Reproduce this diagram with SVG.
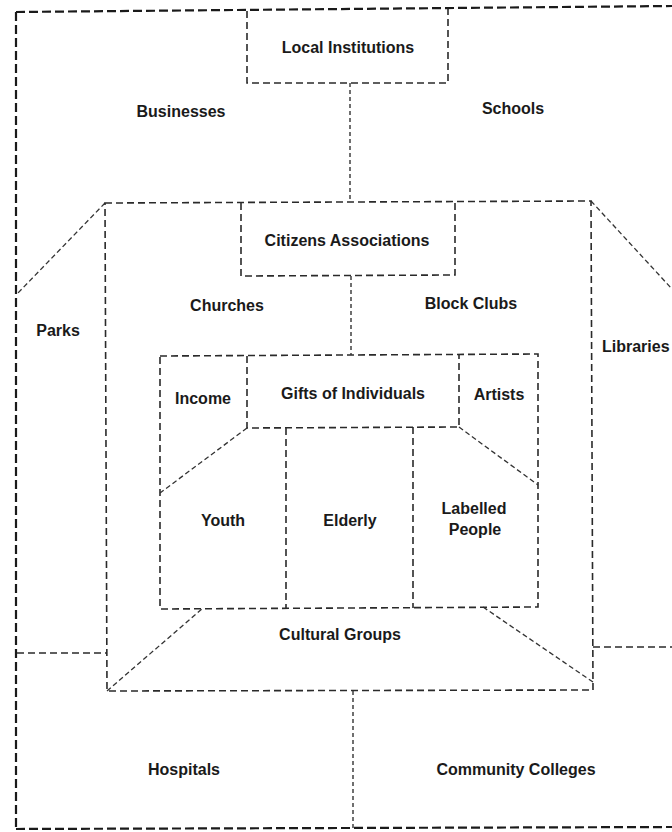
<svg xmlns="http://www.w3.org/2000/svg" width="672" height="832" viewBox="0 0 672 832">
<style>
.bg{fill:#ffffff}
.outer{fill:none;stroke:#1a1a1a;stroke-width:2.2;stroke-dasharray:9 4}
.box{fill:none;stroke:#2a2a2a;stroke-width:1.6;stroke-dasharray:7 4}
.diag{fill:none;stroke:#333;stroke-width:1.3;stroke-dasharray:5 3}
.conn{fill:none;stroke:#333;stroke-width:1.4;stroke-dasharray:4 3}
text{font-family:"Liberation Sans",Arial,Helvetica,sans-serif;font-weight:bold;font-size:16px;fill:#1a1a1a;text-anchor:middle}
</style>
<rect class="bg" x="0" y="0" width="672" height="832"/>

<g id="community">
  <path class="outer" d="M16,12 L672,6 M16,12 L16,829 M16,829 L672,827"/>
  <text x="181" y="117">Businesses</text>
  <text x="513" y="114">Schools</text>
  <text x="58" y="336">Parks</text>
  <text x="602" y="352" style="text-anchor:start">Libraries</text>
  <text x="184" y="775">Hospitals</text>
  <text x="516" y="775">Community Colleges</text>
  <path class="diag" d="M105,203 L17,294 M591,201 L672,289"/>
  <path class="box" d="M17,653 L107,653 M593,647 L672,647"/>
</g>

<g id="local-institutions">
  <path class="box" d="M247,11 L247,83 L448,83 L448,9"/>
  <text x="348" y="53">Local Institutions</text>
</g>

<g id="citizens-level">
  <path class="box" d="M105,203 L591,201 L593,690 L107,691 Z"/>
  <text x="227" y="311">Churches</text>
  <text x="471" y="309">Block Clubs</text>
  <text x="340" y="640">Cultural Groups</text>
  <path class="diag" d="M107,691 L203,608 M593,682 L483,607"/>
</g>

<g id="citizens-associations">
  <path class="box" d="M241,203 L241,276 L455,275 L455,202"/>
  <text x="347" y="246">Citizens Associations</text>
</g>

<g id="individuals-level">
  <path class="box" d="M160,356 L538,354 L538,607 L160,609 Z"/>
  <text x="203" y="404">Income</text>
  <text x="499" y="400">Artists</text>
  <path class="diag" d="M247,428 L160,493 M459,427 L538,485"/>
</g>

<g id="gifts-of-individuals">
  <path class="box" d="M247,356 L247,428 L459,427 L459,355"/>
  <text x="353" y="399">Gifts of Individuals</text>
</g>

<g id="youth">
  <text x="223" y="526">Youth</text>
</g>
<g id="elderly">
  <path class="box" d="M286,428 L286,609"/>
  <text x="350" y="526">Elderly</text>
</g>
<g id="labelled-people">
  <path class="box" d="M413,427 L413,608"/>
  <text x="474" y="514">Labelled</text>
  <text x="475" y="535">People</text>
</g>

<g id="connectors">
  <path class="conn" d="M350,83 L350,202"/>
  <path class="conn" d="M351,276 L351,355"/>
  <path class="conn" d="M353,691 L353,828"/>
</g>
</svg>
